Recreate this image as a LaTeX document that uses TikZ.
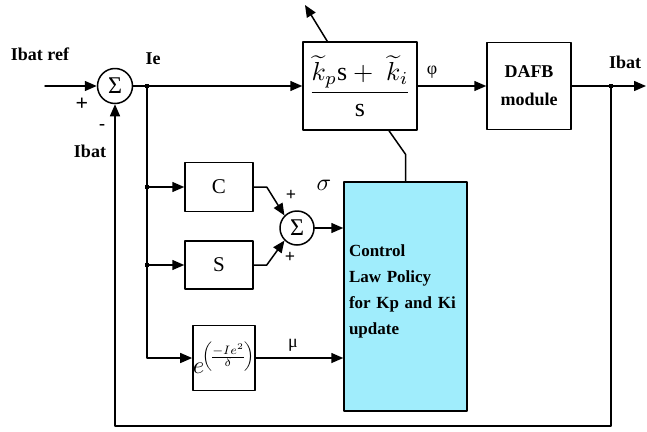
\documentclass[tikz,border=0pt]{standalone}
\usepackage{amsmath,amssymb}
\usepackage{graphicx}
\usepackage{fontspec}
\setmainfont{Liberation Serif}
\usetikzlibrary{arrows.meta}
\definecolor{lawcyan}{RGB}{160,237,252}

\begin{document}
\begin{tikzpicture}[line cap=round,line join=round,>={Triangle[length=12pt,width=10pt]},x=1pt,y=-1pt,line width=1.5pt,
  blk/.style={draw,rectangle,inner sep=0pt,line width=1.5pt},
  sumnode/.style={draw,circle,inner sep=0pt,minimum size=35pt,font=\fontsize{24}{24}\selectfont},
  lbl/.style={font=\bfseries\fontsize{18}{20}\selectfont,inner sep=0pt},
  sgn/.style={font=\bfseries\fontsize{22}{22}\selectfont,inner sep=0pt},
  jdot/.style={fill,rectangle,inner sep=0pt,minimum size=4.5pt}]
\useasboundingbox (0,0) rectangle (647,431);
% main loop
\node[sumnode] (sumA) at (115,86) {Σ};
\coordinate (ibin) at (45,86);
\coordinate (jIe) at (147,86);
\node[blk,minimum width=114pt,minimum height=88pt] (pi) at (360,86) {\scalebox{2.6}{$\dfrac{\widetilde{k}_p\mathrm{s}+\;\widetilde{k}_i}{\mathrm{s}}$}};
\node[blk,minimum width=84pt,minimum height=87pt,align=center,font=\bfseries\fontsize{18}{28}\selectfont] (dafb) at (529,86) {DAFB\\module};
\coordinate (jOut) at (611,86);
\coordinate (ibout) at (646,86);
\coordinate (bot) at (611,426);
\coordinate (tune) at (305,5);
% adaptation part
\node[blk,minimum width=68pt,minimum height=49pt,font=\fontsize{21}{21}\selectfont] (cblk) at (219,187) {C};
\node[blk,minimum width=68pt,minimum height=48pt,font=\fontsize{21}{21}\selectfont] (sblk) at (219,265) {S};
\node[blk,minimum width=60pt,minimum height=65pt] (eblk) at (224,358) {\scalebox{1.75}{$\nulldelimiterspace=0pt \mbox{\scalebox{1.4}{$e$}}^{\!\left(\frac{\scriptstyle -Ie^{2}}{\scriptstyle\delta}\right)}$}};
\node[sumnode,minimum size=34pt] (sumB) at (297,228) {Σ};
\node[blk,fill=lawcyan,minimum width=123pt,minimum height=229pt,text width=113pt,align=left,
  font=\bfseries\fontsize{17}{26}\selectfont] (ctrl) at (405.5,296.5) {Control\\Law Policy\\for Kp and Ki\\update\\[-13pt]\mbox{}};
% connectors
\draw[->] (ibin) -- (sumA.west);
\draw (sumA.east) -- (jIe);
\draw[->] (jIe) -- (pi.west);
\draw[->] (pi.east) -- (dafb.west);
\draw (dafb.east) -- (jOut);
\draw[->] (jOut) -- (ibout);
\draw[->] (jOut) -- (bot) -| (sumA.south);
\draw[->] (jIe) |- (eblk.west);
\draw[->] (jIe |- cblk.west) -- (cblk.west);
\draw[->] (jIe |- sblk.west) -- (sblk.west);
\draw[->] (cblk.east) -- ++(13,0) -- (sumB.135);
\draw[->] (sblk.east) -- ++(13,0) -- (sumB.225);
\draw[->] (sumB.east) -- (ctrl.west |- sumB.east);
\draw[->] (eblk.east) -- (ctrl.west |- eblk.east);
\draw[->] ([xshift=25pt]pi.north west) -- (tune);
\draw ([xshift=29pt]pi.south) -- ([yshift=27pt]ctrl.north) -- (ctrl.north);
% junctions
\node[jdot] (dIe) at (jIe) {};
\node[jdot] (dC) at (jIe |- cblk.west) {};
\node[jdot] (dS) at (jIe |- sblk.west) {};
\node[jdot] (dOut) at (jOut) {};
% labels
\node[lbl] (lref) at (40,54) {Ibat ref};
\node[sgn] (lplusA) at (82,104) {+};
\node[lbl] (lminusA) at (102,127) {-};
\node[lbl] (lfb) at (90,151) {Ibat};
\node[lbl] (lIe) at (153,59) {Ie};
\node[font=\fontsize{18}{18}\selectfont] (lphi) at (432,72) {φ};
\node[lbl] (lout) at (625,62) {Ibat};
\node (lsig) at (324,185) {\scalebox{2.4}{$\sigma$}};
\node[sgn,font=\bfseries\fontsize{18}{18}\selectfont] (lplusB1) at (291,195) {+};
\node[sgn,font=\bfseries\fontsize{18}{18}\selectfont] (lplusB2) at (290,257) {+};
\node[font=\fontsize{18}{18}\selectfont] (lmu) at (293,345) {μ};
\end{tikzpicture}
\end{document}
